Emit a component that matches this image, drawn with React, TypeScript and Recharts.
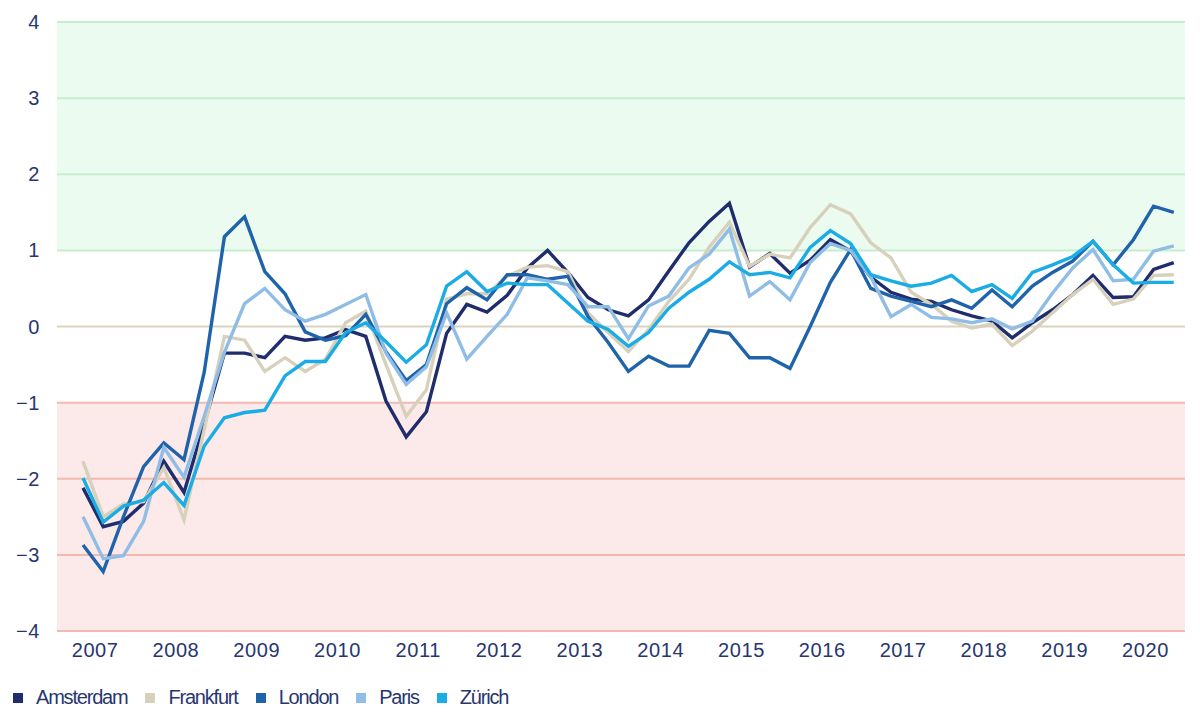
import React from 'react';
import {
  ComposedChart,
  Line,
  XAxis,
  YAxis,
  ReferenceArea,
  ReferenceLine,
  Legend,
} from 'recharts';

// quarterly observations, Q4 2006 .. Q2 2020
const quarters = [
  '2006Q4',
  '2007Q1', '2007Q2', '2007Q3', '2007Q4',
  '2008Q1', '2008Q2', '2008Q3', '2008Q4',
  '2009Q1', '2009Q2', '2009Q3', '2009Q4',
  '2010Q1', '2010Q2', '2010Q3', '2010Q4',
  '2011Q1', '2011Q2', '2011Q3', '2011Q4',
  '2012Q1', '2012Q2', '2012Q3', '2012Q4',
  '2013Q1', '2013Q2', '2013Q3', '2013Q4',
  '2014Q1', '2014Q2', '2014Q3', '2014Q4',
  '2015Q1', '2015Q2', '2015Q3', '2015Q4',
  '2016Q1', '2016Q2', '2016Q3', '2016Q4',
  '2017Q1', '2017Q2', '2017Q3', '2017Q4',
  '2018Q1', '2018Q2', '2018Q3', '2018Q4',
  '2019Q1', '2019Q2', '2019Q3', '2019Q4',
  '2020Q1', '2020Q2',
];

const amsterdam = [
  -2.12, -2.63, -2.56, -2.32, -1.77, -2.18, -1.28, -0.35, -0.35, -0.41, -0.13, -0.18, -0.15, -0.04,
  -0.13, -0.98, -1.45, -1.12, -0.09, 0.29, 0.19, 0.41, 0.77, 1.0, 0.71, 0.38, 0.22, 0.14,
  0.35, 0.73, 1.1, 1.38, 1.62, 0.78, 0.96, 0.7, 0.87, 1.14, 0.99, 0.65, 0.45, 0.36,
  0.33, 0.22, 0.14, 0.07, -0.15, 0.05, 0.22, 0.42, 0.67, 0.38, 0.39, 0.75, 0.84,
];

const frankfurt = [
  -1.77, -2.5, -2.33, -2.3, -1.85, -2.54, -1.35, -0.13, -0.18, -0.59, -0.41, -0.59, -0.43, 0.05,
  0.2, -0.5, -1.18, -0.83, 0.36, 0.43, 0.43, 0.66, 0.78, 0.8, 0.72, 0.18, -0.08, -0.33,
  -0.04, 0.33, 0.62, 1.04, 1.37, 0.79, 0.95, 0.9, 1.3, 1.6, 1.48, 1.1, 0.9, 0.45,
  0.29, 0.07, -0.02, 0.03, -0.25, -0.06, 0.18, 0.42, 0.62, 0.29, 0.36, 0.67, 0.68,
];

const london = [
  -2.87, -3.22, -2.5, -1.84, -1.53, -1.75, -0.6, 1.18, 1.44, 0.72, 0.43, -0.07, -0.18, -0.12,
  0.16, -0.33, -0.71, -0.5, 0.3, 0.51, 0.35, 0.68, 0.68, 0.62, 0.66, 0.13, -0.21, -0.59,
  -0.39, -0.52, -0.52, -0.05, -0.09, -0.41, -0.41, -0.55, 0.0, 0.58, 1.01, 0.5, 0.4, 0.33,
  0.26, 0.35, 0.24, 0.48, 0.26, 0.53, 0.71, 0.86, 1.12, 0.81, 1.14, 1.58, 1.5,
];

const paris = [
  -2.5, -3.05, -3.01, -2.56, -1.59, -1.98, -1.18, -0.34, 0.3, 0.5, 0.22, 0.07, 0.16, 0.29,
  0.42, -0.35, -0.76, -0.53, 0.18, -0.43, -0.13, 0.16, 0.64, 0.6, 0.55, 0.26, 0.26, -0.16,
  0.27, 0.4, 0.77, 0.95, 1.28, 0.4, 0.59, 0.35, 0.84, 1.09, 1.0, 0.65, 0.13, 0.29,
  0.12, 0.1, 0.05, 0.1, -0.03, 0.07, 0.44, 0.77, 1.01, 0.6, 0.62, 0.99, 1.06,
];

const zurich = [
  -1.99, -2.57, -2.36, -2.28, -2.05, -2.35, -1.57, -1.2, -1.13, -1.1, -0.65, -0.46, -0.46, -0.08,
  0.05, -0.2, -0.47, -0.24, 0.53, 0.72, 0.46, 0.57, 0.55, 0.55, 0.31, 0.07, -0.04, -0.26,
  -0.08, 0.24, 0.45, 0.62, 0.85, 0.68, 0.71, 0.64, 1.04, 1.26, 1.09, 0.68, 0.6, 0.53,
  0.57, 0.67, 0.46, 0.55, 0.37, 0.71, 0.81, 0.92, 1.12, 0.81, 0.57, 0.58, 0.58,
];

const yearTicks = [2007, 2008, 2009, 2010, 2011, 2012, 2013, 2014, 2015, 2016, 2017, 2018, 2019, 2020];
const valueTicks = [-4, -3, -2, -1, 0, 1, 2, 3, 4];

const seriesList = [
  { key: 'amsterdam', name: 'Amsterdam', color: '#1f2d6c', values: amsterdam },
  { key: 'frankfurt', name: 'Frankfurt', color: '#d7d0bb', values: frankfurt },
  { key: 'london', name: 'London', color: '#1f63ab', values: london },
  { key: 'paris', name: 'Paris', color: '#8fbde5', values: paris },
  { key: 'zurich', name: 'Zürich', color: '#1aade5', values: zurich },
];

const TEXT = '#283670';
const FONT = '"Liberation Sans", Arial, sans-serif';

// place each quarter at its midpoint on a decimal-year axis
const quarterToYear = (q: string) => {
  const year = Number(q.slice(0, 4));
  const n = Number(q.slice(5));
  return year + (n - 1) / 4 + 0.125;
};

const chartData = quarters.map((q, i) => {
  const row: Record<string, number | string> = { q, t: quarterToYear(q) };
  seriesList.forEach((s) => {
    row[s.key] = s.values[i];
  });
  return row;
});

const formatValue = (v: number) => (v < 0 ? `\u2212${Math.abs(v)}` : `${v}`);

const gridColor = (v: number) => {
  if (v > 0) return '#c6eecd';
  if (v < 0) return '#f3b9b1';
  return '#d9d3c0';
};

const tickStyle = { fill: TEXT, fontSize: 20, fontFamily: FONT, letterSpacing: 0.6 };

const LegendContent = () => (
  <div
    style={{
      display: 'flex',
      alignItems: 'center',
      fontFamily: FONT,
      fontSize: 20,
      letterSpacing: -1.2,
      color: TEXT,
    }}
  >
    {seriesList.map((s) => (
      <div key={s.key} style={{ display: 'flex', alignItems: 'center', marginRight: 18 }}>
        <span style={{ width: 10, height: 10, background: s.color, display: 'inline-block', marginRight: 13 }} />
        <span>{s.name}</span>
      </div>
    ))}
  </div>
);

export default function App() {
  return (
    <div style={{ position: 'absolute', left: 0, top: 0, width: 1200, height: 720, background: '#fff' }}>
      <ComposedChart
        width={1200}
        height={720}
        data={chartData}
        margin={{ top: 22, right: 15, bottom: 35, left: 0 }}
      >
        <ReferenceArea y1={1} y2={4} fill="#ebfbef" fillOpacity={1} stroke="none" ifOverflow="hidden" />
        <ReferenceArea y1={-4} y2={-1} fill="#fce9e9" fillOpacity={1} stroke="none" ifOverflow="hidden" />
        {valueTicks.map((v) => (
          <ReferenceLine key={v} y={v} stroke={gridColor(v)} strokeWidth={2} />
        ))}
        <XAxis
          type="number"
          dataKey="t"
          domain={[2006.553, 2020.514]}
          ticks={yearTicks}
          allowDataOverflow
          axisLine={false}
          tickLine={false}
          tickSize={0}
          tickMargin={12}
          height={30}
          tick={{ ...tickStyle, dx: 2 }}
        />
        <YAxis
          type="number"
          domain={[-4, 4]}
          ticks={valueTicks}
          width={57}
          axisLine={false}
          tickLine={false}
          tickSize={0}
          tickMargin={17}
          tickFormatter={formatValue}
          tick={tickStyle}
        />
        {seriesList.map((s) => (
          <Line
            key={s.key}
            type="linear"
            dataKey={s.key}
            name={s.name}
            stroke={s.color}
            strokeWidth={3.4}
            dot={false}
            activeDot={false}
            isAnimationActive={false}
          />
        ))}
        <Legend
          content={<LegendContent />}
          wrapperStyle={{ position: 'absolute', left: 13, top: 686, width: 700, height: 24 }}
        />
      </ComposedChart>
    </div>
  );
}
